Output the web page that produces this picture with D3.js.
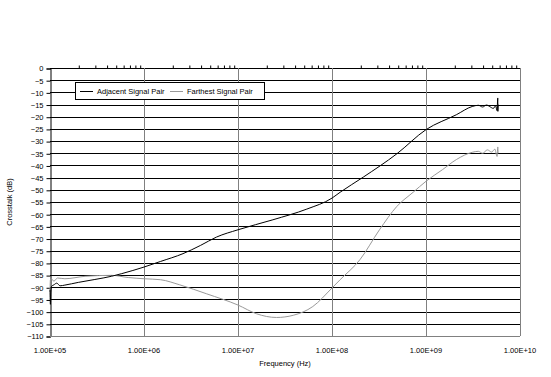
<!DOCTYPE html>
<html lang="en">
<head>
<meta charset="UTF-8">
<script src="https://d3js.org/d3.v7.min.js"></script>
<style>
  body { margin: 0; background: #fff; }
  text { font-family: "Liberation Sans", Arial, sans-serif; fill: #000; }
</style>
</head>
<body>
<div id="chart"></div>
<script>
// frequency (Hz), crosstalk (dB)
var adjacentFreq = [1e5, 1.01e5, 1.02e5, 1.04e5, 1.1e5, 1.18e5, 1.28e5, 1.44e5, 2e5, 3e5, 4.5e5, 5.8e5, 1e6, 1.5e6, 2.6e6, 4e6, 5.9e6, 1e7, 2.35e7, 5.4e7, 1e8, 1.22e8, 2.15e8, 4.9e8, 1e9, 2.1e9, 3.1e9, 3.6e9, 4e9, 4.4e9, 4.8e9, 5.2e9, 5.5e9, 5.7e9, 5.8e9, 5.82e9, 5.85e9];
var adjacentDb = [-91, -97, -92, -89.6, -89, -88.3, -89.4, -89.1, -88, -86.8, -85.5, -84.4, -81.7, -79.4, -76.2, -72.8, -69.4, -66.4, -62.3, -57.9, -53.4, -51, -44.8, -35.2, -25.3, -19.2, -15.8, -15.3, -16, -15.2, -15.9, -16.6, -15.5, -17.5, -12.3, -17.8, -15];

var farthestFreq = [1e5, 1.01e5, 1.03e5, 1.1e5, 1.2e5, 1.44e5, 2.36e5, 4.5e5, 6.8e5, 1e6, 1.5e6, 2.4e6, 4.65e6, 1e7, 1.58e7, 2.57e7, 3.87e7, 6.25e7, 1e8, 1.22e8, 1.98e8, 3.2e8, 4.9e8, 7.3e8, 1e9, 1.5e9, 2.1e9, 3.1e9, 3.6e9, 4e9, 4.5e9, 5e9, 5.4e9, 5.7e9, 5.8e9, 5.85e9];
var farthestDb = [-92, -87, -86.5, -87.5, -86.2, -86.5, -85.5, -85.1, -86, -86.5, -86.9, -89, -92.7, -97.3, -100.9, -102.4, -101.5, -97.9, -90.3, -86.9, -78.7, -66.4, -56.8, -51, -46.5, -41.7, -37.6, -34.6, -34.2, -35, -33.6, -34.5, -33.3, -36.3, -32.4, -35];

var xTicks = [1e5, 1e6, 1e7, 1e8, 1e9, 1e10];
var yTicks = d3.range(0, -111, -5);
var seriesNames = ["Adjacent Signal Pair", "Farthest Signal Pair"];

var width = 551, height = 377;
var pLeft = 50, pRight = 520, pTop = 68, pBottom = 336;

var svg = d3.select("#chart").append("svg")
    .attr("width", width).attr("height", height);

var x = d3.scaleLog().domain([1e5, 1e10]).range([pLeft, pRight]);
var y = d3.scaleLinear().domain([-110, 0]).range([pBottom, pTop]);

// horizontal gridlines
svg.append("g").selectAll("line").data(yTicks).join("line")
    .attr("x1", pLeft).attr("x2", pRight)
    .attr("y1", d => Math.round(y(d)) + 0.5).attr("y2", d => Math.round(y(d)) + 0.5)
    .attr("stroke", "#000").attr("stroke-width", 1);

// vertical gridlines
svg.append("g").selectAll("line").data(xTicks.slice(1)).join("line")
    .attr("x1", d => Math.round(x(d)) + 0.5).attr("x2", d => Math.round(x(d)) + 0.5)
    .attr("y1", pTop).attr("y2", pBottom)
    .attr("stroke", "#808080").attr("stroke-width", 1);

// y axis
var yAxis = d3.axisLeft(y).tickValues(yTicks).tickSize(4).tickFormat(d3.format("d"));
var gy = svg.append("g").attr("transform", "translate(" + (pLeft + 0.5) + ",0.5)").call(yAxis);
gy.select(".domain").attr("stroke", "#000");
gy.selectAll(".tick line").attr("stroke", "#000");
gy.selectAll("text").attr("font-size", "7.5px").attr("fill", "#000")
    .attr("font-family", "Liberation Sans, Arial, sans-serif");

// x axis at 0 with minor ticks pointing up
var minor = [];
for (var e = 5; e < 10; e++) for (var m = 2; m < 10; m++) minor.push(m * Math.pow(10, e));
var xAxisTop = d3.axisTop(x).tickValues(minor).tickSize(3).tickFormat("");
var gxt = svg.append("g").attr("transform", "translate(0.5," + (Math.round(y(0)) + 0.5) + ")").call(xAxisTop);
gxt.select(".domain").remove();
gxt.selectAll(".tick line").attr("stroke", "#000");

// x tick labels along the bottom
svg.append("g").selectAll("text").data(xTicks).join("text")
    .attr("x", d => x(d)).attr("y", 353)
    .attr("text-anchor", "middle").attr("font-size", "7.5px")
    .text(d => "1.00E+" + String(Math.round(Math.log10(d))).padStart(2, "0"));

// plot border
svg.append("line").attr("x1", pRight + 0.5).attr("x2", pRight + 0.5).attr("y1", pTop).attr("y2", pBottom)
    .attr("stroke", "#808080");
svg.append("line").attr("x1", pLeft).attr("x2", pRight).attr("y1", pBottom + 0.5).attr("y2", pBottom + 0.5)
    .attr("stroke", "#808080");

// series
var line = d3.line().x(d => x(d[0])).y(d => y(d[1])).curve(d3.curveMonotoneX);
svg.append("path").datum(d3.zip(farthestFreq, farthestDb))
    .attr("d", line).attr("fill", "none").attr("stroke", "#999").attr("stroke-width", 1);
svg.append("path").datum(d3.zip(adjacentFreq, adjacentDb))
    .attr("d", line).attr("fill", "none").attr("stroke", "#000").attr("stroke-width", 1);

// legend
var lg = svg.append("g");
lg.append("rect").attr("x", 75.5).attr("y", 82.5).attr("width", 189).attr("height", 17)
    .attr("fill", "#fff").attr("stroke", "#000");
var colors = ["#000", "#999"];
var offs = [80, 170];
seriesNames.forEach(function (name, i) {
    lg.append("line").attr("x1", offs[i]).attr("x2", offs[i] + 13)
        .attr("y1", 91.5).attr("y2", 91.5).attr("stroke", colors[i]);
    lg.append("text").attr("x", offs[i] + 17).attr("y", 94)
        .attr("font-size", "7.5px").text(name);
});

// axis titles
svg.append("text").attr("x", 285).attr("y", 366).attr("text-anchor", "middle")
    .attr("font-size", "7.5px").text("Frequency (Hz)");
svg.append("text").attr("transform", "translate(12,202) rotate(-90)")
    .attr("text-anchor", "middle").attr("font-size", "7.5px").text("Crosstalk (dB)");
</script>
</body>
</html>
